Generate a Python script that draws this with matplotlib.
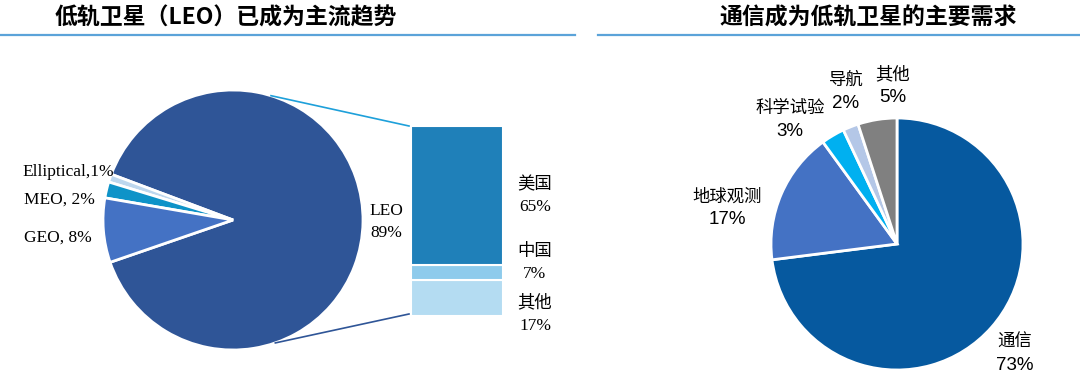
import numpy as np
import matplotlib.pyplot as plt

plt.rcParams['font.family'] = ['Liberation Serif', 'Noto Sans CJK SC']

# data
orbit_labels = ['LEO', 'Elliptical', 'MEO', 'GEO']
orbit_share = [89, 1, 2, 8]
orbit_colors = ['#2F5597', '#BDD7EE', '#0E93C8', '#4472C4']

leo_labels = ['其他', '中国', '美国']
leo_share = [17, 7, 65]
leo_colors = ['#B4DCF2', '#8ECBEC', '#1F80B9']

use_labels = ['通信', '地球观测', '科学试验', '导航', '其他']
use_share = [73, 17, 3, 2, 5]
use_colors = ['#06599F', '#4472C4', '#00B0F0', '#B4C7E7', '#808080']

W, H = 1080, 382
fig = plt.figure(figsize=(W / 100, H / 100), dpi=100)
ax = fig.add_axes([0, 0, 1, 1])


def py(y):  # pixel row -> data y (y up)
    return H - y


# left pie
c1 = (233, py(220))
r1 = 130
ax.pie(orbit_share, colors=orbit_colors, startangle=-161, center=c1, radius=r1,
       wedgeprops=dict(edgecolor='white', linewidth=2))

# right pie
c2 = (897, py(244))
r2 = 126
ax.pie(use_share, colors=use_colors, startangle=90, counterclock=False,
       center=c2, radius=r2, wedgeprops=dict(edgecolor='white', linewidth=2))

ax.set_xlim(0, W)
ax.set_ylim(0, H)
ax.set_aspect('equal', adjustable='box')
ax.axis('off')

# connector lines pie -> bar
bar_left, bar_right, bar_top, bar_bot = 411, 503, 126, 316
a_top, a_bot = np.radians(73), np.radians(-71)
ax.plot([c1[0] + r1 * np.cos(a_top), bar_left - 2],
        [c1[1] + r1 * np.sin(a_top), py(bar_top)], color='#1EA0DA', lw=1.2)
ax.plot([c1[0] + r1 * np.cos(a_bot), bar_left - 2],
        [c1[1] + r1 * np.sin(a_bot), py(bar_bot - 2)], color='#2F5597', lw=1.2)

# titles and underlines
ax.text(226, py(18), '低轨卫星（LEO）已成为主流趋势', ha='center', va='center',
        fontsize=16.5, fontweight='bold', family=['Noto Sans CJK SC'])
ax.text(868, py(18), '通信成为低轨卫星的主要需求', ha='center', va='center',
        fontsize=16.5, fontweight='bold', family=['Noto Sans CJK SC'])
ax.plot([0, 575], [py(35), py(35)], color='#5BA3D9', lw=1.6)
ax.plot([598, W], [py(35), py(35)], color='#5BA3D9', lw=1.6)

# left pie labels
lab_fs = 12.5
ax.text(22, py(172), 'Elliptical,1%', ha='left', va='center', fontsize=lab_fs)
ax.text(24, py(200), 'MEO, 2%', ha='left', va='center', fontsize=lab_fs)
ax.text(24, py(238), 'GEO, 8%', ha='left', va='center', fontsize=lab_fs)
ax.text(386, py(211), 'LEO', ha='center', va='center', fontsize=lab_fs)
ax.text(386, py(233), '89%', ha='center', va='center', fontsize=lab_fs)

bar_text_y = {'美国': (185, 207), '中国': (252, 274), '其他': (303, 326)}
for name, val in zip(leo_labels, leo_share):
    y1, y2 = bar_text_y[name]
    ax.text(535, py(y1), name, ha='center', va='center', fontsize=lab_fs)
    ax.text(535, py(y2), f'{val}%', ha='center', va='center', fontsize=lab_fs)

# right pie labels
sans = ['Liberation Sans', 'Noto Sans CJK SC']
use_text_pos = {'通信': (1015, 342), '地球观测': (727, 197), '科学试验': (790, 108),
                '导航': (846, 80), '其他': (893, 74)}
for name, val in zip(use_labels, use_share):
    x, y = use_text_pos[name]
    ax.text(x, py(y), name, ha='center', va='center', fontsize=12.5, family=sans)
    ax.text(x, py(y + 23), f'{val}%', ha='center', va='center', fontsize=13.5, family=sans)

# stacked bar of LEO by country
bax = fig.add_axes([bar_left / W, (H - bar_bot) / H, (bar_right - bar_left) / W,
                    (bar_bot - bar_top) / H])
bottom = 0
for val, col in zip(leo_share, leo_colors):
    bax.bar(0, val, bottom=bottom, width=1, color=col, edgecolor='white', linewidth=1.5)
    bottom += val
bax.set_xlim(-0.5, 0.5)
bax.set_ylim(0, sum(leo_share))
bax.axis('off')

fig.savefig('out.png', dpi=100)
